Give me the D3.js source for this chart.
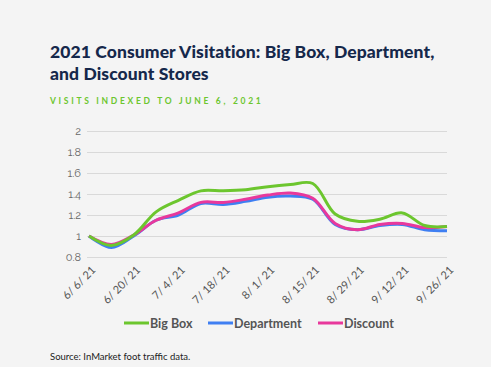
<!DOCTYPE html>
<html><head><meta charset="utf-8">
<script src="https://cdn.jsdelivr.net/npm/d3@7"></script>
<style>body{margin:0;background:#f4f4f4;}svg{display:block;}</style>
</head><body>
<script>
const dates = ["6/6/21","6/13/21","6/20/21","6/27/21","7/4/21","7/11/21","7/18/21","7/25/21","8/1/21","8/8/21","8/15/21","8/22/21","8/29/21","9/5/21","9/12/21","9/19/21","9/26/21"];
const tickLabels = ["6/6/21","6/20/21","7/4/21","7/18/21","8/1/21","8/15/21","8/29/21","9/12/21","9/26/21"];
const bigBox =     [1.00,0.91,1.01,1.23,1.34,1.43,1.43,1.44,1.47,1.49,1.50,1.21,1.14,1.16,1.22,1.10,1.09];
const department = [1.00,0.89,1.00,1.15,1.20,1.31,1.30,1.33,1.37,1.38,1.35,1.11,1.06,1.10,1.11,1.06,1.05];
const discount =   [1.00,0.92,1.01,1.15,1.22,1.32,1.32,1.35,1.39,1.41,1.36,1.12,1.06,1.11,1.12,1.08,1.09];
const yTicks = [0.8,1,1.2,1.4,1.6,1.8,2];
const seriesNames = ["Big Box","Department","Discount"];
const colors = ["#6cc62e","#3f7ff2","#e8389c"];

const W=491,H=367;
const svg=d3.select("body").append("svg").attr("width",W).attr("height",H);
svg.append("rect").attr("width",W).attr("height",H).attr("fill","#f4f4f4");

svg.append("text").attr("x",50).attr("y",58).attr("font-family","Lato, sans-serif").attr("font-weight",900)
  .attr("font-size",17.5).attr("letter-spacing","0.1px").attr("fill","#15284b").text("2021 Consumer Visitation: Big Box, Department,");
svg.append("text").attr("x",50).attr("y",80).attr("font-family","Lato, sans-serif").attr("font-weight",900)
  .attr("font-size",17.5).attr("letter-spacing","0.1px").attr("fill","#15284b").text("and Discount Stores");
svg.append("text").attr("x",50).attr("y",104).attr("font-family","Lato, sans-serif").attr("font-weight",700)
  .attr("font-size",8.5).attr("letter-spacing","2.7px").attr("fill","#6cc62e").text("VISITS INDEXED TO JUNE 6, 2021");

const x=d3.scalePoint().domain(dates).range([89,447]);
const y=d3.scaleLinear().domain([0.8,2]).range([257,131]);

const yAxis=svg.append("g").attr("transform","translate(87,0)")
  .call(d3.axisLeft(y).tickValues(yTicks).tickSize(-360).tickFormat(d=>d===0.8?"0.8":d3.format("~g")(d)));
yAxis.select(".domain").remove();
yAxis.selectAll(".tick line").attr("stroke","#d9d9d9").attr("stroke-width",1);
yAxis.selectAll(".tick text").attr("x",-6).attr("fill","#666").attr("font-family","Raleway, Lato, sans-serif").attr("font-size",11);

const xAxis=svg.append("g").attr("transform","translate(0,262)")
  .call(d3.axisBottom(x).tickValues(tickLabels).tickSize(0).tickFormat(d=>d.replace(/\//g,"/ ")));
xAxis.select(".domain").remove();
xAxis.selectAll(".tick text").attr("fill","#555").attr("font-family","Lato, sans-serif").attr("font-size",11)
  .attr("text-anchor","end").attr("dy","0.35em").attr("transform","translate(2,4) rotate(-45)");

const line=d3.line().x((d,i)=>x(dates[i])).y(d=>y(d)).curve(d3.curveCatmullRom.alpha(0.5));
const data=[bigBox,department,discount];
[1,2,0].forEach(k=>{
  svg.append("path").datum(data[k]).attr("d",line).attr("fill","none")
    .attr("stroke",colors[k]).attr("stroke-width",3).attr("stroke-linejoin","round");
});

const legX=[124,208,318];
seriesNames.forEach((n,i)=>{
  svg.append("line").attr("x1",legX[i]).attr("x2",legX[i]+25).attr("y1",323).attr("y2",323)
    .attr("stroke",colors[i]).attr("stroke-width",3);
  svg.append("text").attr("x",legX[i]+26).attr("y",327.5).attr("font-family","Lato, sans-serif").attr("font-weight",700)
    .attr("font-size",12.5).attr("fill","#555").text(n);
});

svg.append("text").attr("x",50).attr("y",360).attr("font-family","Lato, sans-serif")
  .attr("font-size",9.5).attr("fill","#222").text("Source: InMarket foot traffic data.");
</script>
</body></html>
